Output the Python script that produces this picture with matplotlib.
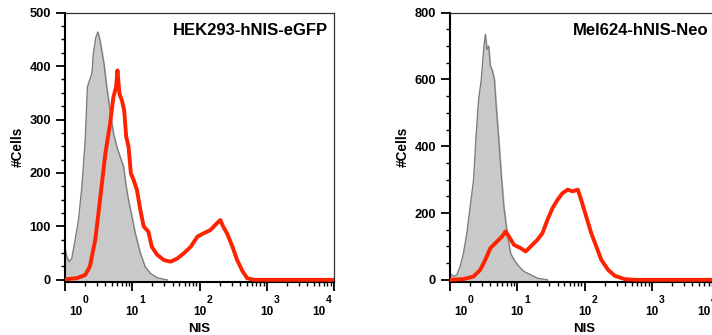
import numpy as np
import matplotlib
matplotlib.use("Agg")
import matplotlib.pyplot as plt
from matplotlib.transforms import ScaledTranslation
from matplotlib.ticker import LogLocator, MultipleLocator, NullFormatter

plt.rcParams['font.family'] = ['Liberation Sans', 'DejaVu Sans']
plt.rcParams['font.weight'] = 'bold'

# --- datos (x en log10 de NIS, y en #Cells) ---
titulos = ['HEK293-hNIS-eGFP', 'Mel624-hNIS-Neo']
y_max = [500, 800]
y_ticks = [[0, 100, 200, 300, 400, 500], [0, 200, 400, 600, 800]]
y_minor = [25, 50]
x_decadas = [0, 1, 2, 3, 4]
x_desplaz = [11, 0, 0, 0, -15]  # px, etiquetas 10^0 y 10^4 desplazadas como en FlowJo

# panel 1: control (gris)
hek_gris_log = [0, 0.025, 0.06, 0.1, 0.15, 0.2, 0.25, 0.3, 0.333, 0.363, 0.4, 0.42, 0.458,
                0.488, 0.51, 0.547, 0.58, 0.62, 0.67, 0.72, 0.77, 0.82, 0.87, 0.91, 0.945,
                0.995, 1.045, 1.12, 1.19, 1.27, 1.37, 1.47, 1.52]
hek_gris_cells = [59, 44, 34, 40, 75, 112, 174, 261, 361, 373, 386, 423, 454,
                  464, 454, 429, 404, 361, 317, 274, 249, 230, 212, 174, 149,
                  118, 87, 50, 25, 12, 4, 1, 0]
# panel 1: hNIS (rojo)
hek_rojo_log = [0, 0.17, 0.3, 0.37, 0.45, 0.52, 0.6, 0.67, 0.72, 0.76, 0.78, 0.81, 0.846,
                0.88, 0.91, 0.945, 0.98, 1.02, 1.07, 1.12, 1.17, 1.24, 1.29, 1.37, 1.47,
                1.57, 1.67, 1.77, 1.87, 1.97, 2.06, 2.16, 2.26, 2.31, 2.35, 2.41, 2.49,
                2.56, 2.64, 2.71, 2.81, 4.0]
hek_rojo_cells = [1, 3, 9, 25, 75, 149, 236, 292, 342, 361, 392, 348, 336,
                  317, 268, 249, 199, 187, 168, 131, 100, 90, 62, 47, 37,
                  34, 40, 50, 62, 81, 87, 93, 106, 112, 100, 87, 62,
                  37, 16, 3, 0, 0]

# panel 2: control (gris)
mel_gris_log = [0, 0.05, 0.1, 0.15, 0.2, 0.25, 0.3, 0.35, 0.39, 0.425, 0.465, 0.5, 0.525,
                0.55, 0.575, 0.6, 0.625, 0.66, 0.69, 0.725, 0.76, 0.8, 0.85, 0.9, 0.95,
                1.025, 1.1, 1.2, 1.3, 1.45]
mel_gris_cells = [20, 10, 15, 40, 80, 140, 220, 300, 440, 540, 600, 690, 735,
                  690, 700, 640, 630, 600, 510, 420, 320, 220, 140, 80, 60,
                  40, 25, 15, 5, 0]
# panel 2: hNIS (rojo)
mel_rojo_log = [0, 0.2, 0.35, 0.45, 0.525, 0.6, 0.7, 0.775, 0.825, 0.875, 0.95, 1.05,
                1.125, 1.2, 1.3, 1.375, 1.45, 1.525, 1.6, 1.675, 1.75, 1.825, 1.9, 1.95,
                2.025, 2.1, 2.175, 2.25, 2.35, 2.45, 2.6, 2.75, 4.0]
mel_rojo_cells = [0, 2, 10, 30, 60, 95, 115, 130, 145, 130, 105, 95,
                  85, 100, 120, 140, 180, 215, 240, 260, 270, 265, 270, 240,
                  190, 140, 100, 60, 30, 12, 2, 0, 0]

datos = [(hek_gris_log, hek_gris_cells, hek_rojo_log, hek_rojo_cells),
         (mel_gris_log, mel_gris_cells, mel_rojo_log, mel_rojo_cells)]

W, H = 712, 335
fig = plt.figure(figsize=(W / 100, H / 100), dpi=100)

posiciones = [(65, 12.7, 269, 269), (450, 12.7, 269, 269)]  # left, top, width, height en px
titulo_pad = [6, 11]


def px(x, y):
    return ScaledTranslation(x / 100, y / 100, fig.dpi_scale_trans)


for i, (px_left, px_top, px_w, px_h) in enumerate(posiciones):
    ax = fig.add_axes([px_left / W, 1 - (px_top + px_h) / H, px_w / W, px_h / H])
    g_log, g_c, r_log, r_c = datos[i]
    gx = 10 ** np.array(g_log)
    rx = 10 ** np.array(r_log)

    ax.fill_between(gx, g_c, 0, color='#c9c9c9', zorder=1)
    ax.plot(gx, g_c, color='#7a7a7a', lw=0.9, zorder=2)
    ax.plot(rx, r_c, color='#ff2200', lw=2.8, solid_joinstyle='round', zorder=3)

    ax.set_xscale('log')
    ax.set_xlim(1, 1e4)
    ax.set_ylim(-y_max[i] * 0.007, y_max[i])

    ax.set_xticks([10.0 ** d for d in x_decadas])
    ax.set_xticklabels([''] * len(x_decadas))
    ax.xaxis.set_minor_locator(LogLocator(base=10, subs=np.arange(2, 10), numticks=20))
    ax.xaxis.set_minor_formatter(NullFormatter())
    ax.set_yticks(y_ticks[i])
    ax.yaxis.set_minor_locator(MultipleLocator(y_minor[i]))

    ax.tick_params(axis='both', which='major', direction='out', length=6.5, width=1.3,
                   color='black')
    ax.tick_params(axis='both', which='minor', direction='out', length=3, width=1.0)
    ax.tick_params(axis='y', which='major', labelsize=9.3, pad=3.5)

    # etiquetas 10^n: base y exponente como textos separados
    tr = ax.get_xaxis_transform()
    for d, dx in zip(x_decadas, x_desplaz):
        ax.text(10.0 ** d, 0, '10', transform=tr + px(dx, -33), ha='center', va='baseline',
                fontsize=8.5, fontweight='bold', clip_on=False)
        ax.text(10.0 ** d, 0, str(d), transform=tr + px(dx + 7, -21.5), ha='left',
                va='baseline', fontsize=7.5, fontweight='bold', clip_on=False)

    for s in ['left', 'bottom']:
        ax.spines[s].set_linewidth(1.5)
        ax.spines[s].set_color('black')
    for s in ['top', 'right']:
        ax.spines[s].set_linewidth(0.9)
        ax.spines[s].set_color('#333333')

    ax.set_xlabel('NIS', fontsize=9.5, fontweight='bold')
    ax.xaxis.label.set_verticalalignment('center')
    ax.xaxis.set_label_coords(0.5, -0.176)
    ax.set_ylabel('#Cells', fontsize=9.8, fontweight='bold')
    ax.yaxis.label.set_verticalalignment('center')
    ax.yaxis.set_label_coords(-0.175, 0.5)
    ax.text(1 - titulo_pad[i] / px_w, 1 - 18 / px_h, titulos[i], transform=ax.transAxes,
            ha='right', va='center', fontsize=12, fontweight='bold')

fig.savefig('out.png', dpi=100)
